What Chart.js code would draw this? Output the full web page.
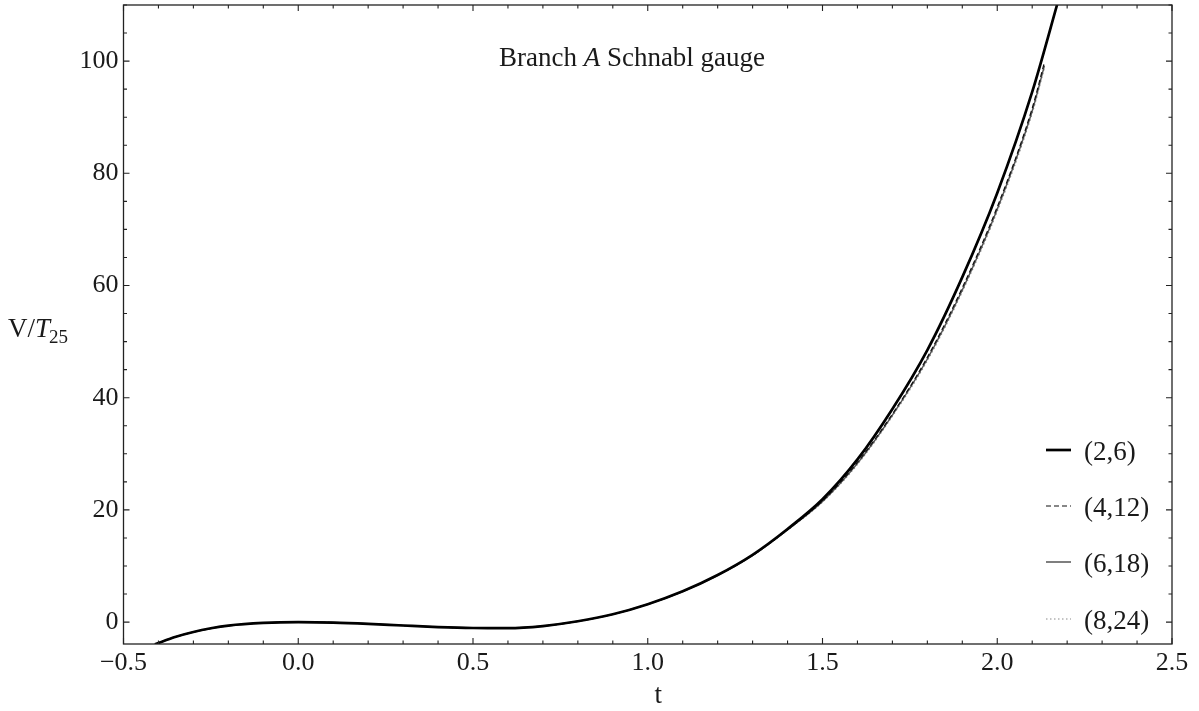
<!DOCTYPE html>
<html>
<head>
<meta charset="utf-8">
<script src="https://cdn.jsdelivr.net/npm/chart.js@4.4.1/dist/chart.umd.min.js"></script>
<style>
  html, body { margin: 0; padding: 0; background: #fff; overflow: hidden; }
  canvas { display: block; }
</style>
</head>
<body>
<canvas id="c" width="1199" height="711"></canvas>
<script>
// Tachyon potential V/T25 along the tachyon direction t, Schnabl gauge, branch A,
// at several truncation levels (L, 3L).
const seriesLabels = ['(2,6)', '(4,12)', '(6,18)', '(8,24)'];

const tL2 = [-0.41, -0.35, -0.3, -0.25, -0.2, -0.1, 0, 0.1, 0.2, 0.3, 0.4, 0.5, 0.6, 0.7, 0.8, 0.9,
             1.0, 1.1, 1.2, 1.3, 1.4, 1.5, 1.6, 1.7, 1.8, 1.9, 2.0, 2.1, 2.18];
const vL2 = [-3.95, -2.6, -1.75, -1.1, -0.62, -0.15, 0, -0.08, -0.3, -0.6, -0.88, -1.05, -1.08, -0.7, 0.15, 1.4,
             3.2, 5.5, 8.4, 12.0, 16.6, 21.9, 29.0, 38.0, 48.5, 61.5, 76.5, 94.5, 112];

const tHigh = [-0.41, -0.35, -0.3, -0.25, -0.2, -0.1, 0, 0.1, 0.2, 0.3, 0.4, 0.5, 0.6, 0.7, 0.8, 0.9,
               1.0, 1.1, 1.2, 1.3, 1.4, 1.5, 1.6, 1.7, 1.8, 1.9, 2.0, 2.1, 2.135];
const vL4 = [-3.95, -2.62, -1.77, -1.12, -0.63, -0.15, 0, -0.08, -0.3, -0.6, -0.88, -1.05, -1.08, -0.71, 0.14, 1.39,
             3.18, 5.47, 8.36, 11.94, 16.5, 21.6, 28.5, 37.1, 47.2, 59.6, 74.0, 91.6, 99.8];
const vL6 = [-3.95, -2.62, -1.77, -1.12, -0.63, -0.15, 0, -0.08, -0.3, -0.6, -0.88, -1.05, -1.08, -0.71, 0.14, 1.38,
             3.17, 5.46, 8.34, 11.9, 16.45, 21.5, 28.3, 36.9, 46.9, 59.2, 73.6, 91.1, 99.2];
const vL8 = [-3.95, -2.62, -1.77, -1.12, -0.63, -0.15, 0, -0.08, -0.3, -0.6, -0.88, -1.05, -1.08, -0.71, 0.13, 1.38,
             3.16, 5.45, 8.32, 11.87, 16.4, 21.4, 28.1, 36.7, 46.6, 58.9, 73.2, 90.7, 98.8];

const xTicks = [-0.5, 0.0, 0.5, 1.0, 1.5, 2.0, 2.5];
const yTicks = [0, 20, 40, 60, 80, 100];

const SERIF = '"Liberation Serif", "DejaVu Serif", serif';
const INK = '#1a1a1a';

const pts = (ts, vs) => ts.map((t, i) => ({ x: t, y: vs[i] }));

const styles = [
  { color: '#000000', width: 2.7, dash: [] },
  { color: '#111111', width: 1.2, dash: [5, 3] },
  { color: '#555555', width: 1.5, dash: [] },
  { color: '#8a8a8a', width: 1.2, dash: [1.5, 2.5] }
];
const seriesData = [pts(tL2, vL2), pts(tHigh, vL4), pts(tHigh, vL6), pts(tHigh, vL8)];

const datasets = seriesData.map((d, i) => ({
  label: seriesLabels[i],
  data: d,
  borderColor: styles[i].color,
  borderWidth: styles[i].width,
  borderDash: styles[i].dash,
  pointRadius: 0,
  fill: false,
  cubicInterpolationMode: 'monotone'
}));

// Frame with inward major/minor ticks, title, legend and axis labels.
const framePlugin = {
  id: 'frame',
  afterDraw(chart) {
    const { ctx, chartArea: a, scales: { x, y } } = chart;
    ctx.save();
    ctx.strokeStyle = '#222';
    ctx.lineWidth = 1.3;
    ctx.strokeRect(a.left, a.top, a.right - a.left, a.bottom - a.top);

    ctx.lineWidth = 1.1;
    ctx.beginPath();
    for (let k = Math.round(x.min * 10); k <= Math.round(x.max * 10); k++) {
      const px = x.getPixelForValue(k / 10);
      const len = (k % 5 === 0) ? 6 : 3.5;
      ctx.moveTo(px, a.bottom); ctx.lineTo(px, a.bottom - len);
      ctx.moveTo(px, a.top); ctx.lineTo(px, a.top + len);
    }
    for (let k = Math.ceil(y.min / 5); k <= Math.floor(y.max / 5); k++) {
      const py = y.getPixelForValue(k * 5);
      const len = (k % 4 === 0) ? 6 : 3.5;
      ctx.moveTo(a.left, py); ctx.lineTo(a.left + len, py);
      ctx.moveTo(a.right, py); ctx.lineTo(a.right - len, py);
    }
    ctx.stroke();

    ctx.fillStyle = INK;
    ctx.textBaseline = 'alphabetic';

    // title with italic A
    const F = 27;
    const t1 = 'Branch ', t2 = 'A', t3 = ' Schnabl gauge';
    ctx.font = F + 'px ' + SERIF;
    const w1 = ctx.measureText(t1).width, w3 = ctx.measureText(t3).width;
    ctx.font = 'italic ' + F + 'px ' + SERIF;
    const w2 = ctx.measureText(t2).width;
    let tx = 632 - (w1 + w2 + w3) / 2;
    const ty = 66;
    ctx.font = F + 'px ' + SERIF; ctx.fillText(t1, tx, ty); tx += w1;
    ctx.font = 'italic ' + F + 'px ' + SERIF; ctx.fillText(t2, tx, ty); tx += w2;
    ctx.font = F + 'px ' + SERIF; ctx.fillText(t3, tx, ty);

    // y axis label V/T_25
    let lx = 8;
    const ly = 337;
    ctx.font = F + 'px ' + SERIF;
    ctx.fillText('V/', lx, ly); lx += ctx.measureText('V/').width;
    ctx.font = 'italic ' + F + 'px ' + SERIF;
    ctx.fillText('T', lx, ly); lx += ctx.measureText('T').width;
    ctx.font = '19px ' + SERIF;
    ctx.fillText('25', lx - 1, ly + 6);

    // x axis label
    ctx.font = F + 'px ' + SERIF;
    ctx.textAlign = 'center';
    ctx.fillText('t', x.getPixelForValue(1.03), 703);

    // legend
    ctx.textAlign = 'left';
    const rows = [452, 508, 564, 621];
    chart.data.datasets.forEach((ds, i) => {
      const ry = rows[i];
      ctx.strokeStyle = ds.borderColor;
      ctx.lineWidth = ds.borderWidth;
      ctx.setLineDash(ds.borderDash);
      ctx.beginPath();
      ctx.moveTo(1046, ry - 2); ctx.lineTo(1071, ry - 2);
      ctx.stroke();
      ctx.setLineDash([]);
      ctx.fillStyle = INK;
      ctx.font = F + 'px ' + SERIF;
      ctx.fillText(ds.label, 1084, ry + 8);
    });
    ctx.restore();
  }
};

new Chart(document.getElementById('c'), {
  type: 'line',
  data: { datasets },
  options: {
    responsive: false,
    animation: false,
    devicePixelRatio: 1,
    layout: { padding: { left: 0, top: 5, right: 27, bottom: 0 } },
    plugins: { legend: { display: false }, tooltip: { enabled: false } },
    scales: {
      x: {
        type: 'linear',
        min: -0.5, max: 2.5,
        afterBuildTicks: s => { s.ticks = xTicks.map(v => ({ value: v })); },
        afterFit: s => { s.height = 67; s.paddingLeft = 0; s.paddingRight = 0; },
        grid: { display: false, drawTicks: false },
        border: { display: false },
        ticks: {
          padding: 4,
          color: INK,
          font: { family: SERIF, size: 26 },
          maxRotation: 0,
          callback: v => (v < 0 ? '\u2212' : '') + Math.abs(v).toFixed(1)
        }
      },
      y: {
        type: 'linear',
        min: -3.9, max: 110,
        afterBuildTicks: s => { s.ticks = yTicks.map(v => ({ value: v })); },
        afterFit: s => { s.width = 123.5; s.paddingTop = 0; s.paddingBottom = 0; },
        grid: { display: false, drawTicks: false },
        border: { display: false },
        ticks: {
          padding: 5,
          color: INK,
          font: { family: SERIF, size: 26 },
          callback: v => String(v)
        }
      }
    }
  },
  plugins: [framePlugin]
});
</script>
</body>
</html>
